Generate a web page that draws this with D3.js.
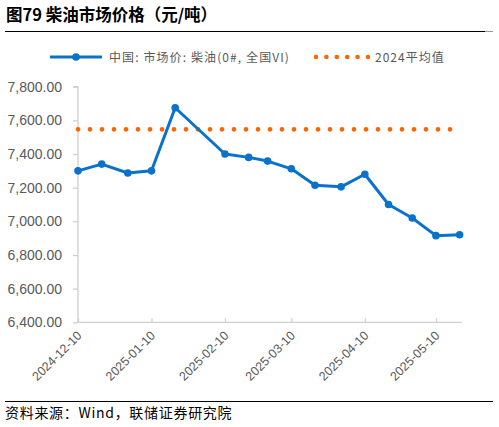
<!DOCTYPE html>
<html><head><meta charset="utf-8">
<script src="https://cdn.jsdelivr.net/npm/d3@7/dist/d3.min.js"></script>
<style>body{margin:0;background:#fff}svg{display:block}</style>
</head><body>
<svg id="c" width="499" height="427"></svg>
<script>
const dates = ["2024-12-10","2024-12-20","2024-12-31","2025-01-10","2025-01-20","2025-02-10","2025-02-20","2025-02-28","2025-03-10","2025-03-20","2025-03-31","2025-04-10","2025-04-20","2025-04-30","2025-05-10","2025-05-20"];
const prices = [7300,7340,7287,7300,7675,7400,7380,7358,7312,7214,7205,7280,7100,7020,6915,6920];
const avg2024 = 7547;
const yTicks = [6400,6600,6800,7000,7200,7400,7600,7800];
const xTicks = ["2024-12-10","2025-01-10","2025-02-10","2025-03-10","2025-04-10","2025-05-10"];
const seriesNames = ["中国: 市场价: 柴油(0#, 全国VI)","2024平均值"];
const titleText = "图79 柴油市场价格（元/吨）";
const sourceText = "资料来源：Wind，联储证券研究院";

const parse = d3.timeParse("%Y-%m-%d");
const svg = d3.select("#c");
const BLUE = "#0A72CC", ORANGE = "#FF6600", GRAY = "#595959", AX = "#D0D0D0";

const x = d3.scaleTime().domain([parse("2024-12-10"), parse("2025-05-21")]).range([78, 462]);
const y = d3.scaleLinear().domain([6400, 7800]).range([322.3, 86.7]);

// title
svg.append("text").attr("x", 6).attr("y", 21).attr("font-family", "Noto Sans CJK SC").attr("font-weight", "bold")
  .attr("font-size", 16.5).attr("fill", "#000").text(titleText);
svg.append("line").attr("x1", 5).attr("x2", 485).attr("y1", 31.5).attr("y2", 31.5).attr("stroke", "#000").attr("stroke-width", 1);
svg.append("line").attr("x1", 485).attr("x2", 493).attr("y1", 31.5).attr("y2", 31.5).attr("stroke", "#999").attr("stroke-width", 1);

// y axis
const yAxis = d3.axisLeft(y).tickValues(yTicks).tickSize(5).tickPadding(11).tickFormat(d3.format(",.2f"));
const gy = svg.append("g").attr("transform", "translate(78,0)").call(yAxis);
gy.select(".domain").attr("stroke", AX).attr("stroke-width", 1.3).attr("d", "M-5," + y(7800) + "H0V" + y(6400));
gy.selectAll(".tick line").attr("stroke", AX).attr("stroke-width", 1.3);
gy.selectAll(".tick text").attr("fill", GRAY).attr("font-family", "Liberation Sans, Arial").attr("font-size", 14);

// x axis
const xAxis = d3.axisBottom(x).tickValues(xTicks.map(parse)).tickSize(-4).tickFormat(d3.timeFormat("%Y-%m-%d"));
const gx = svg.append("g").attr("transform", "translate(0," + y(6400) + ")").call(xAxis);
gx.select(".domain").attr("stroke", AX).attr("stroke-width", 1.3).attr("d", "M78,0H462");
gx.selectAll(".tick line").attr("stroke", AX).attr("stroke-width", 1.3);
gx.selectAll(".tick text").attr("fill", GRAY).attr("font-family", "Liberation Sans, Arial").attr("font-size", 12.5)
  .attr("text-anchor", "end").attr("dy", null).attr("y", 0)
  .attr("transform", "translate(4,14) rotate(-45)");

// average line
const avgData = dates.map(d => ({d: parse(d), v: avg2024}));
svg.append("path").datum(avgData)
  .attr("d", d3.line().x(p => x(p.d)).y(p => y(p.v)))
  .attr("fill", "none").attr("stroke", ORANGE).attr("stroke-width", 4.8)
  .attr("stroke-linecap", "round").attr("stroke-dasharray", "0 12");

// price line
const pData = dates.map((d, i) => ({d: parse(d), v: prices[i]}));
svg.append("path").datum(pData)
  .attr("d", d3.line().x(p => x(p.d)).y(p => y(p.v)))
  .attr("fill", "none").attr("stroke", BLUE).attr("stroke-width", 3).attr("stroke-linejoin", "round");
svg.append("g").selectAll("circle").data(pData).join("circle")
  .attr("cx", p => x(p.d)).attr("cy", p => y(p.v)).attr("r", 3.8).attr("fill", BLUE);

// legend
const lg = svg.append("g");
lg.append("line").attr("x1", 50).attr("x2", 102).attr("y1", 57).attr("y2", 57).attr("stroke", BLUE).attr("stroke-width", 3);
lg.append("circle").attr("cx", 76).attr("cy", 57).attr("r", 3.8).attr("fill", BLUE);
lg.append("text").attr("x", 109).attr("y", 61.5).attr("font-family", "Noto Sans CJK SC").attr("font-size", 12)
  .attr("letter-spacing", 1.1).attr("fill", GRAY).text(seriesNames[0]);
lg.append("line").attr("x1", 316).attr("x2", 368).attr("y1", 57).attr("y2", 57).attr("stroke", ORANGE).attr("stroke-width", 4.6)
  .attr("stroke-linecap", "round").attr("stroke-dasharray", "0 10.4");
lg.append("text").attr("x", 375).attr("y", 61.5).attr("font-family", "Noto Sans CJK SC").attr("font-size", 12)
  .attr("letter-spacing", 1).attr("fill", GRAY).text(seriesNames[1]);

// source
svg.append("line").attr("x1", 5).attr("x2", 493).attr("y1", 401.5).attr("y2", 401.5).attr("stroke", "#000").attr("stroke-width", 1);
svg.append("text").attr("x", 5).attr("y", 418).attr("font-family", "Noto Sans CJK SC").attr("font-size", 14)
  .attr("letter-spacing", 0.7).attr("fill", "#000").text(sourceText);
</script>
</body></html>
